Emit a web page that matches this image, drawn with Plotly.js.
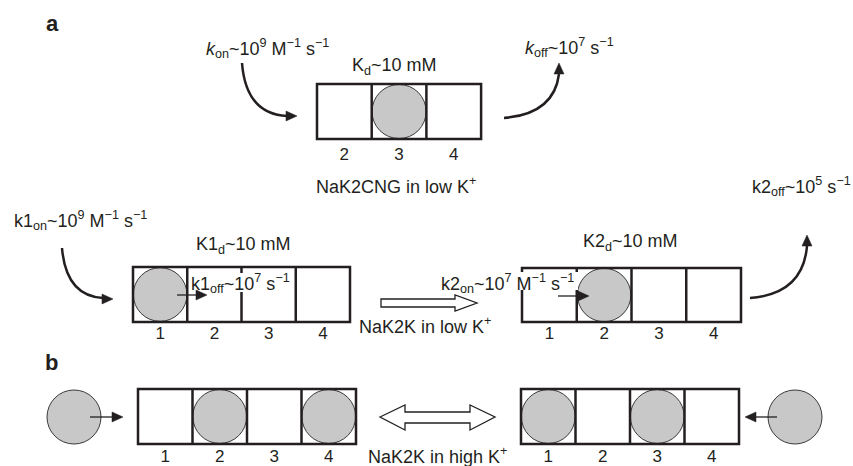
<!DOCTYPE html>
<html>
<head>
<meta charset="utf-8">
<script src="https://cdn.plot.ly/plotly-3.0.1.min.js"></script>
<style>html,body{margin:0;padding:0;background:#fff;}#plot{width:853px;height:466px;}</style>
</head>
<body>
<div id="plot"></div>
<script>
// ---------------- data ----------------
const panelLabels = ['a', 'b'];
const topSites = ['2', '3', '4'];
const siteLabels = ['1', '2', '3', '4'];
const topOccupied = [0, 1, 0];          // NaK2CNG in low K+
const lowKLeftOccupied = [1, 0, 0, 0];  // NaK2K in low K+, state 1
const lowKRightOccupied = [0, 1, 0, 0]; // NaK2K in low K+, state 2
const highKLeftOccupied = [0, 1, 0, 1]; // NaK2K in high K+, state 1
const highKRightOccupied = [1, 0, 1, 0];// NaK2K in high K+, state 2
const stateTitles = ['NaK2CNG in low K<sup>+</sup>', 'NaK2K in low K<sup>+</sup>', 'NaK2K in high K<sup>+</sup>'];
const rateLabels = [
  '<i>k</i><sub>on</sub>~10<sup>9</sup> M<sup>−1</sup> s<sup>−1</sup>',
  'K<sub>d</sub>~10 mM',
  '<i>k</i><sub>off</sub>~10<sup>7</sup> s<sup>−1</sup>',
  'k1<sub>on</sub>~10<sup>9</sup> M<sup>−1</sup> s<sup>−1</sup>',
  'K1<sub>d</sub>~10 mM',
  'k1<sub>off</sub>~10<sup>7</sup> s<sup>−1</sup>',
  'k2<sub>on</sub>~10<sup>7</sup> M<sup>−1</sup> s<sup>−1</sup>',
  'K2<sub>d</sub>~10 mM',
  'k2<sub>off</sub>~10<sup>5</sup> s<sup>−1</sup>'
];

// ---------------- layout geometry / styles ----------------
const INK = '#231f20';
const ION = '#c8c8c8';
const ION_LINE = '#3a3a3a';
const FONT = 'Liberation Sans, Arial, Helvetica, sans-serif';
const FS = 18;

const filters = [
  {sites: topSites,   occ: topOccupied,        x0: 317, y0: 84,  cw: 54.7,  h: 55, labelY: 156},
  {sites: siteLabels, occ: lowKLeftOccupied,   x0: 133, y0: 267, cw: 54.25, h: 55, labelY: 335},
  {sites: siteLabels, occ: lowKRightOccupied,  x0: 522, y0: 268, cw: 54.75, h: 54, labelY: 335},
  {sites: siteLabels, occ: highKLeftOccupied,  x0: 138, y0: 389, cw: 54.5,  h: 55, labelY: 458},
  {sites: siteLabels, occ: highKRightOccupied, x0: 521, y0: 389, cw: 54.5,  h: 55, labelY: 458}
];
const freeIons = [{x: 74, y: 417, r: 27}, {x: 795, y: 417, r: 27}];

const shapes = [];
const traces = [];
const annotations = [];

function line(x0, y0, x1, y1, w, c) {
  shapes.push({type: 'line', xref: 'x', yref: 'y', x0, y0, x1, y1, line: {color: c || INK, width: w || 2.5}});
}
function circle(cx, cy, r) {
  shapes.push({type: 'circle', xref: 'x', yref: 'y', x0: cx - r, x1: cx + r, y0: cy - r, y1: cy + r,
    fillcolor: ION, line: {color: ION_LINE, width: 1}});
}
function path(d, fill, w) {
  shapes.push({type: 'path', xref: 'x', yref: 'y', path: d,
    fillcolor: fill || 'rgba(0,0,0,0)', line: {color: INK, width: w === undefined ? 2.5 : w}});
}
function whiteRect(x0, y0, x1, y1) {
  shapes.push({type: 'rect', xref: 'x', yref: 'y', x0, y0, x1, y1, fillcolor: '#fff', line: {width: 0}});
}
function head(tx, ty, dir, len, half) {
  let p;
  if (dir === 'r') p = `M ${tx} ${ty} L ${tx - len} ${ty - half} L ${tx - len} ${ty + half} Z`;
  if (dir === 'l') p = `M ${tx} ${ty} L ${tx + len} ${ty - half} L ${tx + len} ${ty + half} Z`;
  if (dir === 'u') p = `M ${tx} ${ty} L ${tx - half} ${ty + len} L ${tx + half} ${ty + len} Z`;
  if (dir === 'd') p = `M ${tx} ${ty} L ${tx - half} ${ty - len} L ${tx + half} ${ty - len} Z`;
  shapes.push({type: 'path', xref: 'x', yref: 'y', path: p, fillcolor: INK, line: {color: INK, width: 0.5}});
}
function text(x, y, t, opts) {
  annotations.push(Object.assign({x, y, xref: 'x', yref: 'y', text: t, showarrow: false,
    xanchor: 'center', yanchor: 'middle', font: {family: FONT, size: FS, color: INK}}, opts || {}));
}

// ions inside filters
filters.forEach(f => {
  f.occ.forEach((o, i) => {
    if (o) circle(f.x0 + f.cw * (i + 0.5), f.y0 + f.h / 2, Math.min(f.cw, f.h) / 2 - 0.3);
  });
});
freeIons.forEach(c => circle(c.x, c.y, c.r));

// filter boxes
filters.forEach(f => {
  const n = f.sites.length, x1 = f.x0 + f.cw * n, y1 = f.y0 + f.h;
  shapes.push({type: 'rect', xref: 'x', yref: 'y', x0: f.x0, y0: f.y0, x1, y1,
    fillcolor: 'rgba(0,0,0,0)', line: {color: INK, width: 2.5}});
  for (let i = 1; i < n; i++) line(f.x0 + f.cw * i, f.y0, f.x0 + f.cw * i, y1);
  traces.push({type: 'scatter', mode: 'text', x: f.sites.map((s, i) => f.x0 + f.cw * (i + 0.5)),
    y: f.sites.map(() => f.labelY), text: f.sites, textposition: 'middle center',
    textfont: {family: FONT, size: 17, color: INK}, hoverinfo: 'skip', showlegend: false});
});

// white backgrounds behind in-box rate labels
whiteRect(190, 273, 290, 292);
whiteRect(435, 272, 578, 290);

// curved arrows
path('M 242 63 Q 246 114 287 116'); head(297, 116, 'r', 11, 5);
path('M 504 118 Q 554 114 559 74'); head(559, 63, 'u', 11, 5);
path('M 62 248 Q 66 296 103 298'); head(113, 299, 'r', 11, 5);
path('M 750 298 Q 803 294 807 246'); head(807, 235, 'u', 11, 5);

// small straight arrows (ion moving)
line(177, 295, 196, 295, 1.3); head(207, 295, 'r', 11, 5);
line(558, 296, 578, 296, 1.3); head(589, 296, 'r', 11, 5);
line(90, 417, 112, 417, 1.3); head(123, 417, 'r', 11, 5);
line(777, 417, 756, 417, 1.3); head(745, 417, 'l', 11, 5);

// hollow arrows
path('M 381 299 L 455 299 L 455 295 L 477 303 L 455 311 L 455 307 L 381 307 Z', '#fff', 1.3);
path('M 380 417 L 405 405 L 405 412 L 470 412 L 470 405 L 495 417 L 470 430 L 470 423 L 405 423 L 405 430 Z', '#fff', 1.3);

// text
text(52, 23, panelLabels[0], {font: {family: FONT, size: 22, color: INK, weight: 'bold'}});
text(51, 362, panelLabels[1], {font: {family: FONT, size: 22, color: INK, weight: 'bold'}});
text(267, 48, rateLabels[0]);
text(394, 66, rateLabels[1]);
text(569, 47, rateLabels[2]);
text(396, 185, stateTitles[0]);
text(80, 220, rateLabels[3]);
text(243, 245, rateLabels[4]);
text(240, 283, rateLabels[5]);
text(507, 283, rateLabels[6]);
text(630, 242, rateLabels[7]);
text(801, 186, rateLabels[8]);
text(425, 325, stateTitles[1]);
text(437, 455, stateTitles[2]);

const layout = {
  width: 853, height: 466,
  margin: {l: 0, r: 0, t: 0, b: 0},
  paper_bgcolor: '#fff', plot_bgcolor: '#fff',
  xaxis: {range: [0, 853], visible: false, fixedrange: true},
  yaxis: {range: [466, 0], visible: false, fixedrange: true},
  shapes, annotations, showlegend: false
};
Plotly.newPlot('plot', traces, layout, {staticPlot: true, displayModeBar: false});
</script>
</body>
</html>
